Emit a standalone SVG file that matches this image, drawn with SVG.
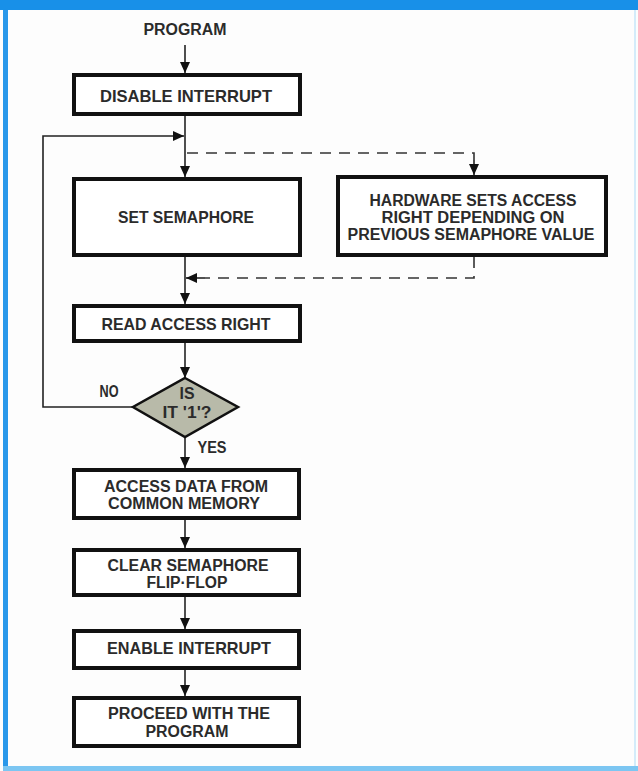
<svg xmlns="http://www.w3.org/2000/svg" width="638" height="771" viewBox="0 0 638 771">
<defs>
<style>
.box{fill:#ffffff;stroke:#111;stroke-width:4}
.dia{fill:#b8baa9;stroke:#111;stroke-width:2.5}
.ln{fill:none;stroke:#222;stroke-width:1.6}
.dash{fill:none;stroke:#333;stroke-width:1.6;stroke-dasharray:11 8}
text{font-family:"Liberation Sans Narrow","Liberation Sans",Arial,sans-serif;font-weight:bold;fill:#2b2b2b;text-anchor:middle;font-size:16px}
.lg{font-size:17px}
</style>
<marker id="ah" markerUnits="userSpaceOnUse" markerWidth="12" markerHeight="12" viewBox="0 0 12 12" refX="11" refY="6" orient="auto">
<path d="M0,1 L11,6 L0,11 Z" fill="#111"/>
</marker>
</defs>
<rect x="0" y="0" width="638" height="771" fill="#fdfdfd"/>
<g id="frame">
<rect x="0" y="0" width="638" height="10" fill="#1890e8"/>
<rect x="3" y="10" width="5" height="758" fill="#2a98ea"/>
<rect x="634" y="10" width="2" height="758" fill="#d4ecfa"/>
<rect x="3" y="766" width="635" height="5" fill="#7cc6f2"/>
</g>
<g id="connectors">
<line class="ln" x1="185" y1="45" x2="185" y2="73" marker-end="url(#ah)"/>
<line class="ln" x1="185" y1="116" x2="185" y2="177" marker-end="url(#ah)"/>
<polyline class="ln" points="133,407 43,407 43,136 184,136" marker-end="url(#ah)"/>
<polyline class="dash" points="187,153 474,153 474,160"/>
<line class="ln" x1="474" y1="160" x2="474" y2="175" marker-end="url(#ah)"/>
<polyline class="dash" points="474,257 474,278 205,278"/>
<line class="ln" x1="205" y1="278" x2="186" y2="278" marker-end="url(#ah)"/>
<line class="ln" x1="185" y1="257" x2="185" y2="304" marker-end="url(#ah)"/>
<line class="ln" x1="185" y1="343" x2="185" y2="378" marker-end="url(#ah)"/>
<line class="ln" x1="185" y1="437" x2="185" y2="468" marker-end="url(#ah)"/>
<line class="ln" x1="185" y1="520" x2="185" y2="548" marker-end="url(#ah)"/>
<line class="ln" x1="185" y1="597" x2="185" y2="629" marker-end="url(#ah)"/>
<line class="ln" x1="185" y1="670" x2="185" y2="696" marker-end="url(#ah)"/>
</g>
<g id="start">
<text x="185" y="35" textLength="83" lengthAdjust="spacingAndGlyphs">PROGRAM</text>
</g>
<g id="disable">
<rect class="box" x="74" y="75" width="226" height="39"/>
<text x="186" y="102" class="lg" textLength="172" lengthAdjust="spacingAndGlyphs">DISABLE INTERRUPT</text>
</g>
<g id="set">
<rect class="box" x="74" y="179" width="226" height="76"/>
<text x="186" y="223" class="lg" textLength="136" lengthAdjust="spacingAndGlyphs">SET SEMAPHORE</text>
</g>
<g id="hardware">
<rect class="box" x="338" y="177" width="268" height="78"/>
<text x="473" y="206" textLength="207" lengthAdjust="spacingAndGlyphs">HARDWARE SETS ACCESS</text>
<text x="473" y="223" textLength="183" lengthAdjust="spacingAndGlyphs">RIGHT DEPENDING ON</text>
<text x="471" y="240" textLength="247" lengthAdjust="spacingAndGlyphs">PREVIOUS SEMAPHORE VALUE</text>
</g>
<g id="read">
<rect class="box" x="74" y="306" width="226" height="35"/>
<text x="186" y="330" class="lg" textLength="169" lengthAdjust="spacingAndGlyphs">READ ACCESS RIGHT</text>
</g>
<g id="decision">
<polygon class="dia" points="185,378 238,407 185,437 133,407"/>
<text x="187" y="399" textLength="15" lengthAdjust="spacingAndGlyphs">IS</text>
<text x="187" y="418" textLength="49" lengthAdjust="spacingAndGlyphs">IT '1'?</text>
<text x="109" y="397" textLength="19" lengthAdjust="spacingAndGlyphs">NO</text>
<text x="212" y="453" textLength="29" lengthAdjust="spacingAndGlyphs">YES</text>
</g>
<g id="access">
<rect class="box" x="74" y="470" width="225" height="48"/>
<text x="186" y="492" textLength="164" lengthAdjust="spacingAndGlyphs">ACCESS DATA FROM</text>
<text x="184" y="509" textLength="152" lengthAdjust="spacingAndGlyphs">COMMON MEMORY</text>
</g>
<g id="clear">
<rect class="box" x="74" y="550" width="225" height="45"/>
<text x="188" y="571" textLength="161" lengthAdjust="spacingAndGlyphs">CLEAR SEMAPHORE</text>
<text x="187" y="588" textLength="81" lengthAdjust="spacingAndGlyphs">FLIP·FLOP</text>
</g>
<g id="enable">
<rect class="box" x="74" y="631" width="225" height="37"/>
<text x="189" y="654" class="lg" textLength="164" lengthAdjust="spacingAndGlyphs">ENABLE INTERRUPT</text>
</g>
<g id="proceed">
<rect class="box" x="74" y="698" width="225" height="48"/>
<text x="189" y="719" textLength="162" lengthAdjust="spacingAndGlyphs">PROCEED WITH THE</text>
<text x="187" y="737" textLength="83" lengthAdjust="spacingAndGlyphs">PROGRAM</text>
</g>
</svg>
